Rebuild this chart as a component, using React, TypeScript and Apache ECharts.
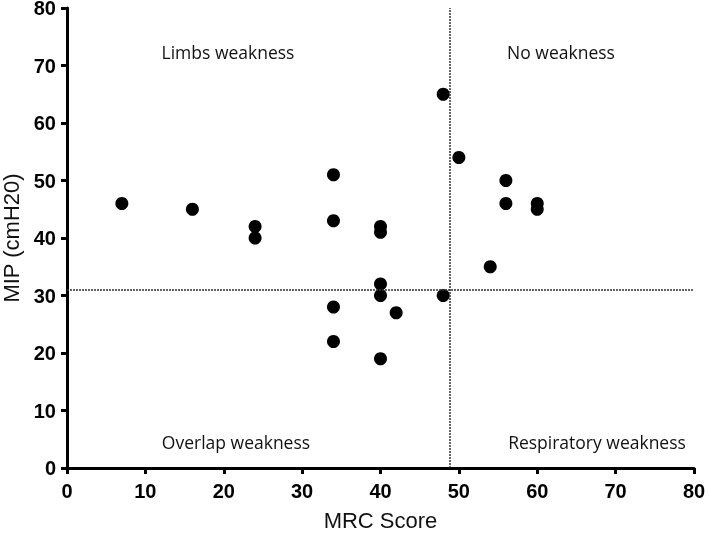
import React, { useEffect, useRef } from "react";
import * as echarts from "echarts";

const mrcScore = [7, 16, 24, 24, 34, 34, 34, 34, 40, 40, 40, 40, 40, 42, 48, 48, 50, 54, 56, 56, 60, 60];
const mipValues = [46, 45, 42, 40, 51, 43, 28, 22, 42, 41, 32, 30, 19, 27, 65, 30, 54, 35, 50, 46, 46, 45];
const xCutoff = 48.8;
const yCutoff = 31;
const quadrantLabels = ["Limbs weakness", "No weakness", "Overlap weakness", "Respiratory weakness"];

export default function App() {
  const ref = useRef<HTMLDivElement>(null);
  useEffect(() => {
    if (!ref.current) return;
    const chart = echarts.init(ref.current, undefined, { renderer: "svg" });
    const data = mrcScore.map((x, i) => [x, mipValues[i]]);
    const qFont = { fontFamily: "Open Sans", fontSize: 17.5, fill: "#111" };
    chart.setOption({
      animation: false,
      grid: { left: 67, right: 15, top: 8, bottom: 65, containLabel: false, outerBoundsMode: "none" },
      xAxis: {
        type: "value",
        min: 0,
        max: 80,
        interval: 10,
        name: "MRC Score",
        nameLocation: "middle",
        nameGap: 41,
        nameTextStyle: { fontFamily: "Liberation Sans", fontSize: 22, color: "#111" },
        axisLine: { show: true, onZero: false, lineStyle: { color: "#000", width: 3 } },
        axisTick: { show: true, length: 6, lineStyle: { color: "#000", width: 3 } },
        axisLabel: { fontFamily: "Liberation Sans", fontWeight: "bold", fontSize: 20, color: "#000", margin: 13 },
        splitLine: { show: false },
      },
      yAxis: {
        type: "value",
        min: 0,
        max: 80,
        interval: 10,
        name: "MIP (cmH20)",
        nameLocation: "middle",
        nameGap: 44,
        nameTextStyle: { fontFamily: "Liberation Sans", fontSize: 22, color: "#111" },
        axisLine: { show: true, onZero: false, lineStyle: { color: "#000", width: 3 } },
        axisTick: { show: true, length: 6, lineStyle: { color: "#000", width: 3 } },
        axisLabel: { fontFamily: "Liberation Sans", fontWeight: "bold", fontSize: 20, color: "#000", margin: 11 },
        splitLine: { show: false },
      },
      series: [
        {
          type: "scatter",
          data,
          symbol: "circle",
          symbolSize: 13,
          itemStyle: { color: "#000", opacity: 1 },
          markLine: {
            silent: true,
            symbol: "none",
            label: { show: false },
            lineStyle: { color: "#333", width: 1.5, type: [2, 1] },
            data: [{ xAxis: xCutoff }, { yAxis: yCutoff }],
          },
        },
      ],
      graphic: [
        { type: "text", x: 228, y: 52, style: { ...qFont, text: quadrantLabels[0], align: "center", verticalAlign: "middle" } },
        { type: "text", x: 561, y: 52, style: { ...qFont, text: quadrantLabels[1], align: "center", verticalAlign: "middle" } },
        { type: "text", x: 236, y: 442, style: { ...qFont, text: quadrantLabels[2], align: "center", verticalAlign: "middle" } },
        { type: "text", x: 597, y: 442, style: { ...qFont, text: quadrantLabels[3], align: "center", verticalAlign: "middle" } },
      ],
    });
    return () => chart.dispose();
  }, []);
  return <div ref={ref} style={{ position: "fixed", left: 0, top: 0, width: 709, height: 533 }} />;
}
